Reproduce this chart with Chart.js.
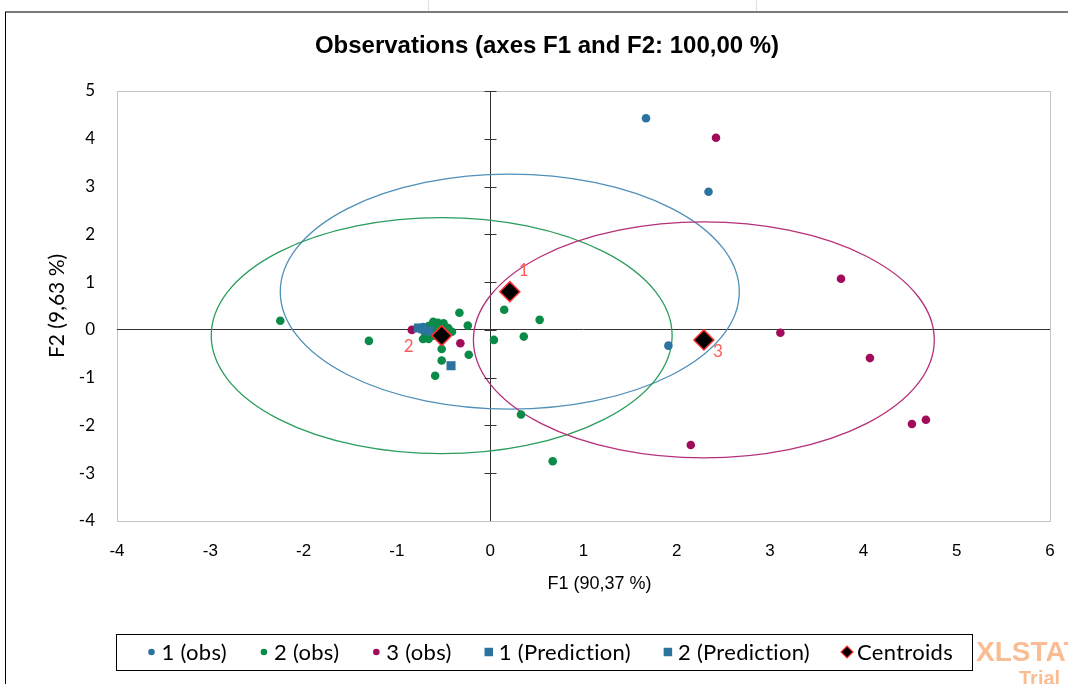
<!DOCTYPE html>
<html>
<head>
<meta charset="utf-8">
<script src="https://cdn.jsdelivr.net/npm/chart.js@4.4.1/dist/chart.umd.min.js"></script>
<style>
  html, body { margin: 0; padding: 0; background: #fff; }
</style>
</head>
<body>
<canvas id="ctx" width="1068" height="684"></canvas>
<script>
// class 1 observations
const obs1X = [1.67, 2.34, 1.91, -0.74, -0.70, -0.66, -0.72, -0.62, -0.68];
const obs1Y = [4.43, 2.89, -0.33, 0.02, -0.02, 0.03, 0.06, -0.01, 0.00];

// class 2 observations
const obs2X = [-2.25, -1.30, -0.33, -0.24, 0.15, 0.53, 0.04, 0.36, -0.52, -0.52, -0.23, -0.59,
               -0.72, -0.66, -0.61, -0.56, -0.50, -0.41, 0.33, 0.67,
               -0.58, -0.54, -0.50, -0.62, -0.66, -0.70, -0.60, -0.55, -0.48, -0.45];
const obs2Y = [0.19, -0.23, 0.36, 0.09, 0.42, 0.21, -0.21, -0.14, -0.40, -0.64, -0.52, -0.96,
               -0.19, -0.19, 0.17, 0.15, 0.14, -0.04, -1.77, -2.75,
               0.12, 0.10, 0.08, 0.05, 0.08, -0.05, -0.12, -0.05, -0.02, 0.04];

// class 3 observations
const obs3X = [2.42, 3.76, 3.11, 4.07, 4.52, 4.67, 2.15, -0.84, -0.32, -0.70];
const obs3Y = [4.02, 1.07, -0.06, -0.59, -1.97, -1.88, -2.41, 0.00, -0.28, 0.02];

// predictions
const pred1X = [-0.42, -0.72];
const pred1Y = [-0.75, 0.02];
const pred2X = [-0.66, -0.77];
const pred2Y = [-0.02, 0.04];

// centroids + confidence ellipses around them
const centroidX = [0.21, -0.52, 2.29];
const centroidY = [0.80, -0.12, -0.21];
const centroidLabels = ['1', '2', '3'];
const ellipseRX = [2.46, 2.47, 2.47];
const ellipseRY = [2.46, 2.47, 2.47];

// axes
const xTicks = [-4, -3, -2, -1, 0, 1, 2, 3, 4, 5, 6];
const yTicks = [-4, -3, -2, -1, 0, 1, 2, 3, 4, 5];
const chartTitle = 'Observations (axes F1 and F2: 100,00 %)';
const xTitle = 'F1 (90,37 %)';
const yTitle = 'F2 (9,63 %)';

const BLUE = '#2c74a0', GREEN = '#0a8b48', PURPLE = '#a00b5a';
const ellipseColors = ['#4f8fb8', '#2a9d5c', '#b5307a'];

function pts(xs, ys) {
  return xs.map((v, i) => ({x: v, y: ys[i]}));
}

const ellipses = {
  id: 'ellipses',
  beforeDatasetsDraw(chart) {
    const {ctx, chartArea: a, scales: {x, y}} = chart;
    ctx.save();
    ctx.beginPath();
    ctx.rect(a.left, a.top, a.width, a.height);
    ctx.clip();
    centroidX.forEach((cx, i) => {
      const px = x.getPixelForValue(cx), py = y.getPixelForValue(centroidY[i]);
      const rx = Math.abs(x.getPixelForValue(cx + ellipseRX[i]) - px);
      const ry = Math.abs(y.getPixelForValue(centroidY[i] + ellipseRY[i]) - py);
      ctx.beginPath();
      ctx.ellipse(px, py, rx, ry, 0, 0, Math.PI * 2);
      ctx.strokeStyle = ellipseColors[i];
      ctx.lineWidth = 1.3;
      ctx.stroke();
    });
    // small tick marks on the vertical zero axis
    const x0 = Math.round(x.getPixelForValue(0)) + 0.5;
    ctx.strokeStyle = '#333';
    ctx.lineWidth = 1;
    yTicks.forEach(t => {
      const py = Math.round(y.getPixelForValue(t)) + 0.5;
      ctx.beginPath();
      ctx.moveTo(x0 - 6, py);
      ctx.lineTo(x0 + 6, py);
      ctx.stroke();
    });
    ctx.restore();
  }
};

const frame = {
  id: 'frame',
  beforeDraw(chart) {
    const {ctx, chartArea: a} = chart;
    ctx.save();
    ctx.fillStyle = '#fff';
    ctx.fillRect(0, 0, chart.width, chart.height);
    ctx.strokeStyle = '#e0e0e0';
    ctx.lineWidth = 1;
    [428.5, 756.5].forEach(gx => {
      ctx.beginPath(); ctx.moveTo(gx, 0); ctx.lineTo(gx, 11); ctx.stroke();
    });
    ctx.strokeStyle = '#7a7a7a';
    ctx.lineWidth = 2;
    ctx.beginPath(); ctx.moveTo(5, 12); ctx.lineTo(chart.width, 12); ctx.stroke();
    ctx.strokeStyle = '#000';
    ctx.lineWidth = 1;
    ctx.beginPath(); ctx.moveTo(5.5, 12); ctx.lineTo(5.5, chart.height); ctx.stroke();
    ctx.strokeStyle = '#c4c4c4';
    ctx.strokeRect(Math.round(a.left) + 0.5, Math.round(a.top) + 0.5,
                   Math.round(a.width), Math.round(a.height));
    ctx.restore();
  },
  afterDatasetsDraw(chart) {
    const {ctx, scales: {x, y}} = chart;
    const offs = [[14, -21], [-33, 11], [14, 12]];
    ctx.save();
    ctx.fillStyle = '#ff5a5a';
    ctx.font = '17px Lato, sans-serif';
    ctx.textAlign = 'center';
    ctx.textBaseline = 'middle';
    centroidLabels.forEach((lab, i) => {
      ctx.fillText(lab, x.getPixelForValue(centroidX[i]) + offs[i][0],
                   y.getPixelForValue(centroidY[i]) + offs[i][1]);
    });
    ctx.restore();
  },
  afterDraw(chart) {
    const {ctx, chartArea: a} = chart;
    ctx.save();
    // titles
    ctx.fillStyle = '#000';
    ctx.textAlign = 'center';
    ctx.textBaseline = 'middle';
    ctx.font = 'bold 24px "Liberation Sans", sans-serif';
    ctx.fillText(chartTitle, 547, 46);
    ctx.font = '18px "Liberation Sans", sans-serif';
    ctx.fillText(xTitle, (a.left + a.right) / 2 + 16, 584);
    ctx.save();
    ctx.translate(57, (a.top + a.bottom) / 2);
    ctx.rotate(-Math.PI / 2);
    ctx.font = '21px Lato, sans-serif';
    ctx.fillText(yTitle, 0, 0);
    ctx.restore();

    // legend
    const cy = 652;
    ctx.textAlign = 'left';
    ctx.font = '22px Lato, sans-serif';
    ctx.letterSpacing = '0.3px';
    let px = 151.5, lastEnd = 0;
    chart.data.datasets.forEach(ds => {
      const r = ds.pointStyle === 'circle' ? 3.3 : 6;
      ctx.fillStyle = ds.backgroundColor;
      ctx.strokeStyle = ds.borderColor;
      ctx.lineWidth = 1.2;
      Chart.helpers.drawPoint(ctx, {
        pointStyle: ds.pointStyle, radius: r, rotation: 0,
        borderWidth: ds.pointStyle === 'rectRot' ? 1.2 : 0
      }, px, cy);
      const tx = px + 10;
      ctx.fillStyle = '#000';
      ctx.fillText(ds.label, tx, cy + 1);
      lastEnd = tx + ctx.measureText(ds.label).width;
      px = lastEnd + 37;
    });
    ctx.letterSpacing = '0px';
    ctx.strokeStyle = '#000';
    ctx.lineWidth = 1;
    ctx.strokeRect(116.5, 634.5, Math.round(lastEnd + 19 - 116), 36);

    // trial watermark
    ctx.fillStyle = 'rgba(246, 145, 75, 0.6)';
    ctx.font = 'bold 28px "Liberation Sans", sans-serif';
    ctx.textBaseline = 'alphabetic';
    ctx.fillText('XLSTAT', 976, 661);
    ctx.font = 'bold 20px "Liberation Sans", sans-serif';
    ctx.fillText('Trial', 1019, 685);
    ctx.restore();
  }
};

const chart = new Chart(document.getElementById('ctx'), {
  type: 'scatter',
  data: {
    datasets: [
      {label: '1 (obs)', data: pts(obs1X, obs1Y), pointStyle: 'circle', pointRadius: 4.3,
       backgroundColor: BLUE, borderColor: BLUE, borderWidth: 0, order: 6},
      {label: '2 (obs)', data: pts(obs2X, obs2Y), pointStyle: 'circle', pointRadius: 4.3,
       backgroundColor: GREEN, borderColor: GREEN, borderWidth: 0, order: 5},
      {label: '3 (obs)', data: pts(obs3X, obs3Y), pointStyle: 'circle', pointRadius: 4.3,
       backgroundColor: PURPLE, borderColor: PURPLE, borderWidth: 0, order: 4},
      {label: '1 (Prediction)', data: pts(pred1X, pred1Y), pointStyle: 'rect', pointRadius: 6.4,
       backgroundColor: BLUE, borderColor: BLUE, borderWidth: 0, order: 3},
      {label: '2 (Prediction)', data: pts(pred2X, pred2Y), pointStyle: 'rect', pointRadius: 6.4,
       backgroundColor: BLUE, borderColor: BLUE, borderWidth: 0, order: 2},
      {label: 'Centroids', data: pts(centroidX, centroidY), pointStyle: 'rectRot', pointRadius: 10,
       backgroundColor: '#000', borderColor: '#ff3030', borderWidth: 1.5, order: 1}
    ]
  },
  options: {
    responsive: false,
    animation: false,
    events: [],
    layout: {padding: {top: 91, left: 8, right: 18, bottom: 122}},
    plugins: {
      legend: {display: false},
      tooltip: {enabled: false},
      title: {display: false}
    },
    scales: {
      x: {
        type: 'linear', min: -4, max: 6,
        afterBuildTicks: s => { s.ticks = xTicks.map(v => ({value: v})); },
        afterFit: s => { s.height = 41; s.paddingLeft = 0; s.paddingRight = 0; },
        ticks: {color: '#000', padding: 20,
                font: {family: '"Liberation Sans", sans-serif', size: 17}},
        grid: {drawTicks: false, lineWidth: 1,
               color: c => (c.tick && c.tick.value === 0) ? '#333' : 'rgba(0,0,0,0)'},
        border: {display: false}
      },
      y: {
        type: 'linear', min: -4, max: 5,
        afterBuildTicks: s => { s.ticks = yTicks.map(v => ({value: v})); },
        afterFit: s => { s.width = 109; s.paddingTop = 0; s.paddingBottom = 0; },
        ticks: {color: '#000', padding: 22, font: {family: 'Lato, sans-serif', size: 17}},
        grid: {drawTicks: false, lineWidth: 1,
               color: c => (c.tick && c.tick.value === 0) ? '#333' : 'rgba(0,0,0,0)'},
        border: {display: false}
      }
    }
  },
  plugins: [frame, ellipses]
});
</script>
</body>
</html>
